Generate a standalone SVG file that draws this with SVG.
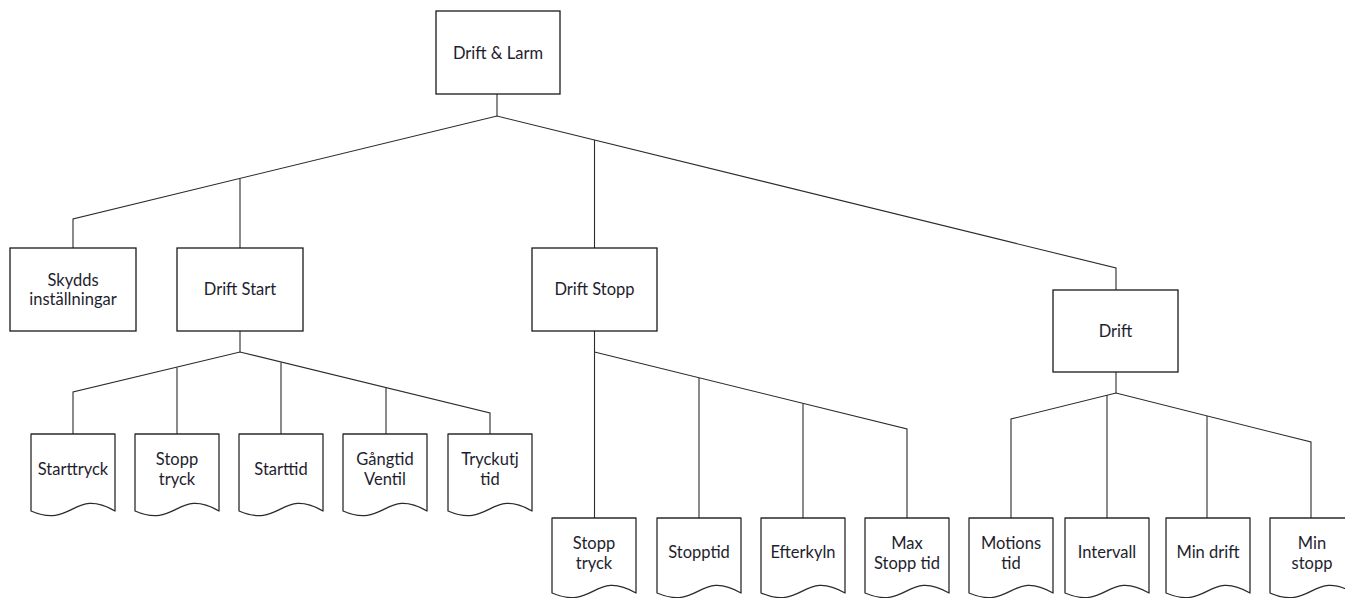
<svg xmlns="http://www.w3.org/2000/svg" width="1345" height="598" viewBox="0 0 1345 598">
  <style>
    .box { fill: #ffffff; stroke: #1a1a1a; stroke-width: 1.3; }
    .doc { fill: #ffffff; stroke: #2a2a2a; stroke-width: 1.3; stroke-linejoin: round; }
    .lbl { font-family: Lato, "Liberation Sans", sans-serif; font-size: 16.5px; fill: #1e1e2e; text-anchor: middle; }
    .wire { fill: none; stroke: #2b2b2b; stroke-width: 1.1; }
  </style>
  <rect width="1345" height="598" fill="#ffffff"/>

  <!-- connectors -->
  <g id="connectors" class="wire">
    <!-- root fan-out -->
    <path d="M497,94 V116"/>
    <path d="M73,248 V219 L497,116 L1116,268 V290"/>
    <path d="M240,248 V179"/>
    <path d="M594.5,248 V140"/>
    <!-- Drift Start children -->
    <path d="M240,331 V352"/>
    <path d="M73,434 V392 L240,352 L490,413 V434"/>
    <path d="M177,434 V367.5"/>
    <path d="M281,434 V362.5"/>
    <path d="M386,434 V388"/>
    <!-- Drift Stopp children -->
    <path d="M594.5,331 V518"/>
    <path d="M594.5,352 L907,429 V518"/>
    <path d="M699,518 V378"/>
    <path d="M803,518 V403.5"/>
    <!-- Drift children -->
    <path d="M1116,372 V393"/>
    <path d="M1011,518 V419 L1116,393 L1311,442 V518"/>
    <path d="M1107,518 V395"/>
    <path d="M1207,518 V416"/>
  </g>

  <!-- level 0 -->
  <g id="node-drift-larm">
    <rect class="box" x="436" y="11" width="124" height="83"/>
    <text class="lbl" x="498" y="59">Drift &amp; Larm</text>
  </g>

  <!-- level 1 -->
  <g id="node-skydds">
    <rect class="box" x="10" y="248" width="126" height="83"/>
    <text class="lbl" x="73" y="285.5">Skydds</text>
    <text class="lbl" x="73" y="304.5">inställningar</text>
  </g>
  <g id="node-drift-start">
    <rect class="box" x="177" y="248" width="126" height="83"/>
    <text class="lbl" x="240" y="295">Drift Start</text>
  </g>
  <g id="node-drift-stopp">
    <rect class="box" x="532" y="248" width="125" height="83"/>
    <text class="lbl" x="594.5" y="295">Drift Stopp</text>
  </g>
  <g id="node-drift">
    <rect class="box" x="1053" y="290" width="125" height="82"/>
    <text class="lbl" x="1115.5" y="337">Drift</text>
  </g>

  <!-- Drift Start documents -->
  <g id="node-starttryck">
    <path class="doc" d="M31,434 H115 V511 C73,487 73,529 31,511 Z"/>
    <text class="lbl" x="73" y="475">Starttryck</text>
  </g>
  <g id="node-stopp-tryck-1">
    <path class="doc" d="M135,434 H219 V511 C177,487 177,529 135,511 Z"/>
    <text class="lbl" x="177" y="465">Stopp</text>
    <text class="lbl" x="177" y="485">tryck</text>
  </g>
  <g id="node-starttid">
    <path class="doc" d="M239,434 H323 V511 C281,487 281,529 239,511 Z"/>
    <text class="lbl" x="281" y="475">Starttid</text>
  </g>
  <g id="node-gangtid">
    <path class="doc" d="M343,434 H427 V511 C385,487 385,529 343,511 Z"/>
    <text class="lbl" x="385" y="465">Gångtid</text>
    <text class="lbl" x="385" y="485">Ventil</text>
  </g>
  <g id="node-tryckutj">
    <path class="doc" d="M448,434 H532 V511 C490,487 490,529 448,511 Z"/>
    <text class="lbl" x="490" y="465">Tryckutj</text>
    <text class="lbl" x="490" y="485">tid</text>
  </g>

  <!-- Drift Stopp documents -->
  <g id="node-stopp-tryck-2">
    <path class="doc" d="M552,518 H636 V593 C594,569 594,611 552,593 Z"/>
    <text class="lbl" x="594" y="548.5">Stopp</text>
    <text class="lbl" x="594" y="568.5">tryck</text>
  </g>
  <g id="node-stopptid">
    <path class="doc" d="M657,518 H741 V593 C699,569 699,611 657,593 Z"/>
    <text class="lbl" x="699" y="558">Stopptid</text>
  </g>
  <g id="node-efterkyln">
    <path class="doc" d="M761,518 H845 V593 C803,569 803,611 761,593 Z"/>
    <text class="lbl" x="803" y="558">Efterkyln</text>
  </g>
  <g id="node-max-stopp-tid">
    <path class="doc" d="M865,518 H949 V593 C907,569 907,611 865,593 Z"/>
    <text class="lbl" x="907" y="548.5">Max</text>
    <text class="lbl" x="907" y="568.5">Stopp tid</text>
  </g>

  <!-- Drift documents -->
  <g id="node-motions-tid">
    <path class="doc" d="M969,518 H1053 V593 C1011,569 1011,611 969,593 Z"/>
    <text class="lbl" x="1011" y="548.5">Motions</text>
    <text class="lbl" x="1011" y="568.5">tid</text>
  </g>
  <g id="node-intervall">
    <path class="doc" d="M1065,518 H1149 V593 C1107,569 1107,611 1065,593 Z"/>
    <text class="lbl" x="1107" y="558">Intervall</text>
  </g>
  <g id="node-min-drift">
    <path class="doc" d="M1166,518 H1250 V593 C1208,569 1208,611 1166,593 Z"/>
    <text class="lbl" x="1208" y="558">Min drift</text>
  </g>
  <g id="node-min-stopp">
    <path class="doc" d="M1270,518 H1354 V593 C1312,569 1312,611 1270,593 Z"/>
    <text class="lbl" x="1312" y="548.5">Min</text>
    <text class="lbl" x="1312" y="568.5">stopp</text>
  </g>
</svg>
